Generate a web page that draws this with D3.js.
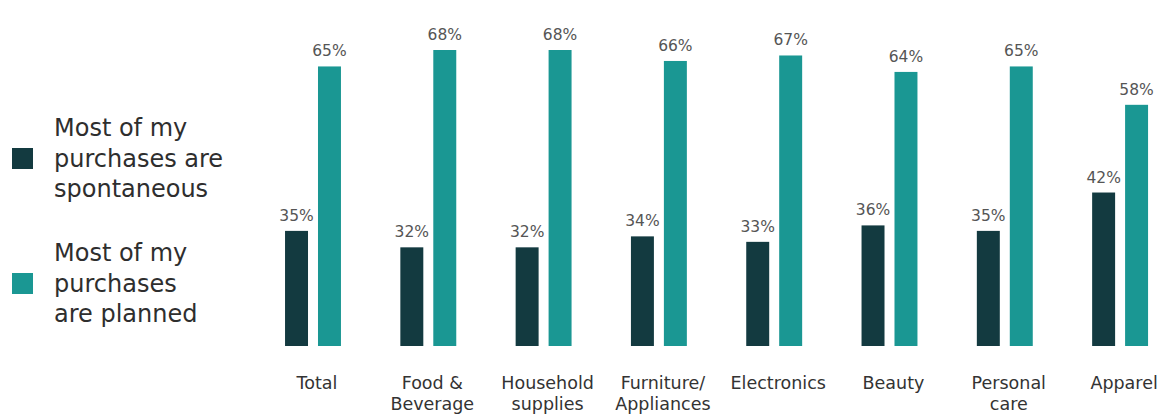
<!DOCTYPE html>
<html>
<head>
<meta charset="utf-8">
<script src="https://cdn.jsdelivr.net/npm/d3@7"></script>
<style>
  html, body { margin: 0; padding: 0; background: #ffffff; }
  svg { display: block; font-family: "DejaVu Sans", sans-serif; }
</style>
</head>
<body>
<svg id="chart" width="1172" height="416"></svg>
<script>
// Purchase behaviour by category (% of respondents)
const categories = [
  ["Total"],
  ["Food &", "Beverage"],
  ["Household", "supplies"],
  ["Furniture/", "Appliances"],
  ["Electronics"],
  ["Beauty"],
  ["Personal", "care"],
  ["Apparel"]
];
const spontaneous = [35, 32, 32, 34, 33, 36, 35, 42];
const planned     = [65, 68, 68, 66, 67, 64, 65, 58];

const seriesNames = ["Most of my purchases are spontaneous", "Most of my purchases are planned"];
const legendLines = [
  ["Most of my", "purchases are", "spontaneous"],
  ["Most of my", "purchases", "are planned"]
];
const colors = ["#133a40", "#1a9793"];

const svg = d3.select("#chart");

const keys = categories.map(c => c.join(" "));
const rows = keys.map((k, i) => ({ key: k, lines: categories[i], values: [spontaneous[i], planned[i]] }));

const x = d3.scaleBand()
  .domain(keys)
  .range([255.35, 1177.75])
  .paddingInner(0.515)
  .paddingOuter(0.2575);

const xs = d3.scaleBand()
  .domain(seriesNames)
  .range([0, x.bandwidth()])
  .paddingInner(0.303)
  .paddingOuter(0);

const y = d3.scaleLinear()
  .domain([14, 68])
  .range([346, 50]);

// Bars
const groups = svg.append("g").selectAll("g")
  .data(rows)
  .join("g")
  .attr("transform", d => `translate(${x(d.key)},0)`);

groups.selectAll("rect")
  .data(d => d.values.map((v, j) => ({ v, s: seriesNames[j], j })))
  .join("rect")
  .attr("x", d => xs(d.s))
  .attr("y", d => y(d.v))
  .attr("width", xs.bandwidth())
  .attr("height", d => y(y.domain()[0]) - y(d.v))
  .attr("fill", d => colors[d.j]);

// Value labels
groups.selectAll("text.val")
  .data(d => d.values.map((v, j) => ({ v, s: seriesNames[j], j })))
  .join("text")
  .attr("class", "val")
  .attr("x", d => xs(d.s) + xs.bandwidth() / 2)
  .attr("y", d => y(d.v) - 10)
  .attr("text-anchor", "middle")
  .attr("font-size", "15.5px")
  .attr("fill", "#555555")
  .text(d => d.v + "%");

// Category labels
const cat = svg.append("g").selectAll("text")
  .data(rows)
  .join("text")
  .attr("text-anchor", "middle")
  .attr("font-size", "17.5px")
  .attr("fill", "#333333")
  .attr("x", d => x(d.key) + x.bandwidth() / 2 + 4)
  .attr("y", 389);

cat.selectAll("tspan")
  .data(d => d.lines)
  .join("tspan")
  .attr("x", function () { return d3.select(this.parentNode).attr("x"); })
  .attr("dy", (d, i) => i === 0 ? 0 : 20.5)
  .text(d => d);

// Legend
const legendTop = [136, 261];
const legend = svg.append("g").selectAll("g")
  .data(seriesNames)
  .join("g")
  .attr("transform", (d, i) => `translate(0,${legendTop[i]})`);

legend.append("rect")
  .attr("x", 12)
  .attr("y", 12)
  .attr("width", 21)
  .attr("height", 21)
  .attr("fill", (d, i) => colors[i]);

legend.append("text")
  .attr("x", 54)
  .attr("y", 0)
  .attr("font-size", "24px")
  .attr("fill", "#2e2e2e")
  .selectAll("tspan")
  .data((d, i) => legendLines[i])
  .join("tspan")
  .attr("x", 54)
  .attr("dy", (d, i) => i === 0 ? 0 : 30.5)
  .text(d => d);
</script>
</body>
</html>
